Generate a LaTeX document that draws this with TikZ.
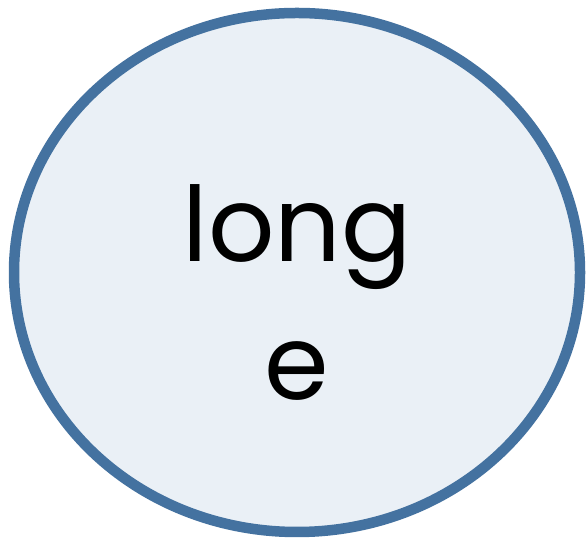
\documentclass[tikz,border=0pt]{standalone}
\usepackage{fontspec}
\setmainfont{Poppins}
\usetikzlibrary{shapes.geometric, positioning}
\definecolor{rimblue}{HTML}{4472A0}
\definecolor{paleblue}{HTML}{EAF0F6}

\begin{document}
\begin{tikzpicture}[
    x=1pt, y=1pt,
    bubble/.style={ellipse, draw=rimblue, fill=paleblue, line width=10.5pt,
                   minimum width=566pt, minimum height=519pt,
                   align=center, font=\fontsize{104}{138}\selectfont, inner sep=0pt}
]
\useasboundingbox (0,0) rectangle (588,545);
\node[bubble] (word) at (297,272.5)
    {\raisebox{-37pt}[0pt][0pt]{\begin{tabular}{@{}c@{}}long\\e\end{tabular}}};
\end{tikzpicture}
\end{document}
